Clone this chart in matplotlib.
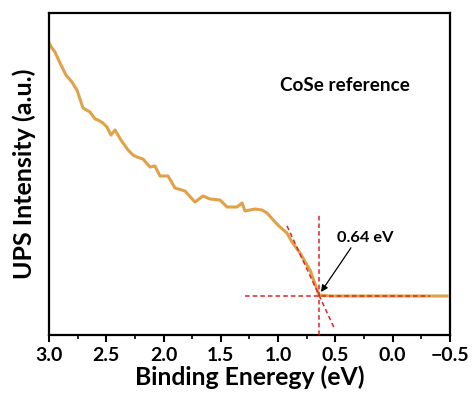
import numpy as np
import matplotlib
matplotlib.use("Agg")
import matplotlib.pyplot as plt
from matplotlib.ticker import MultipleLocator

plt.rcParams['font.family'] = ['Lato', 'DejaVu Sans']
plt.rcParams['font.weight'] = 'bold'

# UPS spectrum (binding energy in eV, intensity in a.u.)
energy = [3.000, 2.974, 2.948, 2.904, 2.852, 2.800, 2.756, 2.703, 2.642, 2.598,
          2.572, 2.529, 2.494, 2.459, 2.424, 2.372, 2.310, 2.267, 2.232, 2.180,
          2.118, 2.075, 2.031, 1.961, 1.900, 1.813, 1.726, 1.656, 1.595, 1.507,
          1.446, 1.359, 1.315, 1.289, 1.202, 1.141, 1.097, 1.027, 0.984, 0.923,
          0.879, 0.809, 0.722, 0.643, 0.547, 0.400, 0.200, 0.000, -0.200, -0.474]
intensity = [292, 287, 283, 272, 260, 253, 245, 227, 223, 216,
             215, 212, 208, 200, 205, 195, 185, 180, 178, 176,
             168, 169, 159, 159, 147, 144, 133, 139, 136, 135,
             128, 128, 132, 124, 126, 125, 122, 113, 108, 102,
             93, 82, 65, 40, 39, 39, 39, 39, 39, 39]

onset = 0.64
baseline = 39
slope = 248  # a.u. per eV of the leading-edge fit
tangent_e = [0.923, 0.504]
hline_e = [1.289, -0.325]
vline_top = 122

fig = plt.figure(figsize=(4.72, 3.98), dpi=100)
ax = fig.add_axes([0.1038, 0.1583, 0.8496, 0.809])

ax.plot(energy, intensity, color='#e0a148', lw=2.2, zorder=2)

red = '#e02424'
te = np.array(tangent_e)
ax.plot(te, baseline + slope * (te - onset), color=red, lw=1.1, ls=(0, (3, 2)), zorder=3)
ax.plot([onset, onset], [0, vline_top], color=red, lw=1.1, ls=(0, (3, 2)), zorder=3)
ax.plot(hline_e, [baseline, baseline], color=red, lw=1.1, ls=(0, (3, 2)), zorder=3)

ax.annotate('0.64 eV', xy=(0.626, 43), xytext=(0.486, 97),
            fontsize=11.8, fontweight='bold', va='center', ha='left',
            arrowprops=dict(arrowstyle='-|>', color='black', lw=0.9,
                            shrinkA=0, shrinkB=0, mutation_scale=10,
                            relpos=(0.28, 0)))
ax.text(0.576, 0.776, 'CoSe reference', transform=ax.transAxes,
        fontsize=13.6, fontweight='bold', va='center', ha='left')

ax.set_xlim(3.0, -0.5)
ax.set_ylim(0, 322)
ax.xaxis.set_major_locator(MultipleLocator(0.5))
ax.xaxis.set_minor_locator(MultipleLocator(0.25))
ax.tick_params(axis='x', which='major', direction='out', length=5, width=1.5, labelsize=14)
ax.tick_params(axis='x', which='minor', direction='out', length=3, width=1.2)
ax.set_yticks([])
for s in ax.spines.values():
    s.set_linewidth(1.6)

ax.set_xlabel('Binding Eneregy (eV)', fontsize=17.8, fontweight='bold', labelpad=1)
ax.set_ylabel('UPS Intensity (a.u.)', fontsize=18, fontweight='bold', labelpad=9)

fig.savefig('out.png', dpi=100)
